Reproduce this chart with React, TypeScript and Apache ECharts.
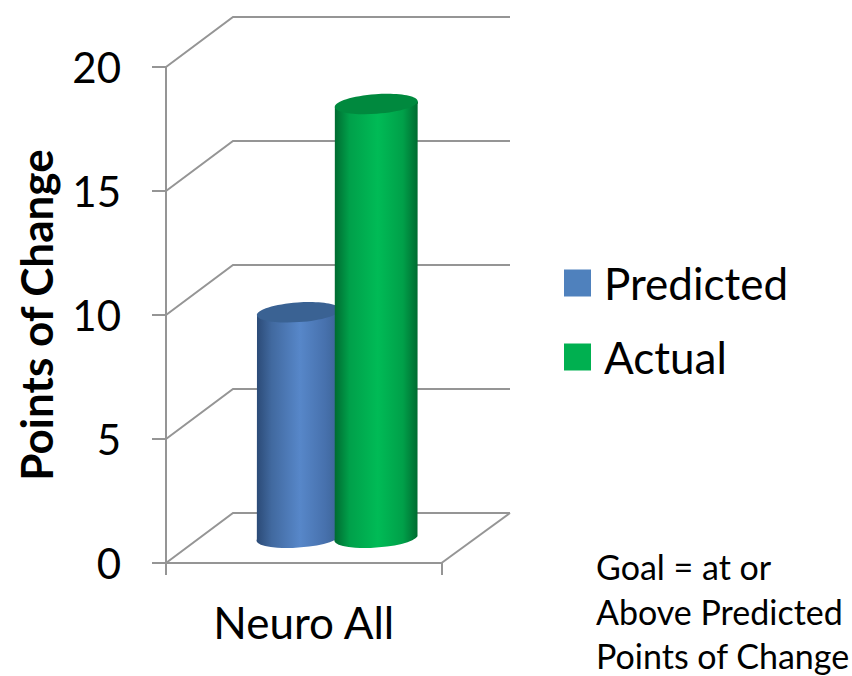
import React, { useEffect, useRef } from "react";
import * as echarts from "echarts";

const categories = ["Neuro All"];
const predicted = [9.1];
const actual = [17.5];
const yTicks = [0, 5, 10, 15, 20];
const noteLines = ["Goal = at or", "Above Predicted", "Points of Change"];

const FONT = "Lato";
const DEPTH_X = 67;
const DEPTH_Y = 50;
const LINE = "#959595";

function wallItem(params: any, api: any) {
  const v = api.value(1);
  const p = api.coord([0, v]);
  const band = api.size([1, 0])[0];
  const left = p[0] - band / 2;
  const right = p[0] + band / 2;
  const y = p[1];
  const children: any[] = [
    {
      type: "polyline",
      shape: { points: [[left, y], [left + DEPTH_X, y - DEPTH_Y], [right + DEPTH_X + 1.5, y - DEPTH_Y]] },
      style: { stroke: LINE, lineWidth: 2, fill: "none" },
    },
  ];
  if (v === 0) {
    children.push({
      type: "line",
      shape: { x1: right, y1: y, x2: right + DEPTH_X + 1.5, y2: y - DEPTH_Y },
      style: { stroke: LINE, lineWidth: 2 },
    });
  }
  return { type: "group", children };
}

function cylinder(offsetSign: number, stops: string[], topColor: string) {
  return (params: any, api: any) => {
    const cat = api.value(0);
    const top = api.coord([cat, api.value(1)]);
    const base = api.coord([cat, 0]);
    const band = api.size([1, 0])[0];
    const cx = top[0] + DEPTH_X / 2 + offsetSign * band * 0.1413;
    const halfW = band * 0.15;
    const rx = halfW + 0.2;
    const ry = 9.8;
    const tilt = 4;
    const tiltRad = (tilt * Math.PI) / 180;
    const dy = rx * Math.sin(tiltRad);
    const yTop = top[1] - DEPTH_Y / 2;
    const yBase = base[1] - DEPTH_Y / 2 + 1.2;
    const x0 = cx - halfW;
    const x1 = cx + halfW;
    const d =
      `M ${x0} ${yTop + dy} A ${rx} ${ry} ${-tilt} 0 1 ${x1} ${yTop - dy} ` +
      `L ${x1} ${yBase - dy} A ${rx} ${ry} ${-tilt} 0 1 ${x0} ${yBase + dy} Z`;
    return {
      type: "group",
      children: [
        {
          type: "path",
          shape: { pathData: d },
          style: {
            fill: new echarts.graphic.LinearGradient(0, 0, 1, 0, [
              { offset: 0, color: stops[0] },
              { offset: 0.18, color: stops[1] },
              { offset: 0.52, color: stops[2] },
              { offset: 0.82, color: stops[3] },
              { offset: 1, color: stops[4] },
            ]),
          },
        },
        {
          type: "ellipse",
          x: cx,
          y: yTop,
          rotation: tiltRad,
          shape: { cx: 0, cy: 0, rx, ry },
          style: { fill: topColor },
        },
      ],
    };
  };
}

export default function App() {
  const ref = useRef<HTMLDivElement>(null);
  useEffect(() => {
    document.body.style.margin = "0";
    const chart = echarts.init(ref.current!, undefined, { renderer: "svg" });
    chart.setOption({
      animation: false,
      backgroundColor: "#ffffff",
      textStyle: { fontFamily: FONT },
      grid: { left: 166, top: 67, width: 275.5, height: 496, containLabel: false },
      legend: {
        data: ["Predicted", "Actual"],
        orient: "vertical",
        left: 564,
        top: 261,
        padding: 0,
        itemWidth: 27,
        itemHeight: 27,
        itemGap: 30,
        icon: "rect",
        selectedMode: false,
        textStyle: { fontFamily: FONT, fontSize: 44, color: "#000", padding: [0, 0, 0, 8] },
      },
      xAxis: {
        type: "category",
        data: categories,
        axisLine: { lineStyle: { color: LINE, width: 2 } },
        axisTick: { show: true, length: 12, lineStyle: { color: LINE, width: 2 } },
        axisLabel: { fontFamily: FONT, fontSize: 44, color: "#000", margin: 37 },
      },
      yAxis: {
        type: "value",
        min: 0,
        max: 20,
        interval: 5,
        name: "Points of Change",
        nameLocation: "middle",
        nameGap: 108,
        nameTextStyle: { fontFamily: FONT, fontSize: 44, fontWeight: "bold", color: "#000" },
        axisLine: { show: true, lineStyle: { color: LINE, width: 2 } },
        axisTick: { show: true, length: 14, lineStyle: { color: LINE, width: 2 } },
        axisLabel: { fontFamily: FONT, fontSize: 42, color: "#000", margin: 45 },
        splitLine: { show: false },
      },
      series: [
        {
          type: "custom",
          name: "walls",
          clip: false,
          silent: true,
          renderItem: wallItem,
          encode: { x: 0, y: 1 },
          data: yTicks.map((t) => [0, t]),
          z: 1,
        },
        {
          type: "custom",
          name: "Predicted",
          clip: false,
          itemStyle: { color: "#4f81bd" },
          renderItem: cylinder(-1, ["#2b4a76", "#41699f", "#5787c9", "#4771ad", "#3b6294"], "#3a6293"),
          encode: { x: 0, y: 1 },
          data: predicted.map((v, i) => [i, v]),
          z: 2,
        },
        {
          type: "custom",
          name: "Actual",
          clip: false,
          itemStyle: { color: "#00b050" },
          renderItem: cylinder(1, ["#006a30", "#00a04a", "#00bb56", "#00a049", "#006a30"], "#00893e"),
          encode: { x: 0, y: 1 },
          data: actual.map((v, i) => [i, v]),
          z: 3,
        },
      ],
      graphic: noteLines.map((line, i) => ({
        type: "text",
        left: 596,
        top: 549.5 + i * 44.5,
        style: { text: line, font: `34px ${FONT}`, fill: "#000" },
      })),
    });
    return () => chart.dispose();
  }, []);
  return <div ref={ref} style={{ width: 852, height: 676 }} />;
}
